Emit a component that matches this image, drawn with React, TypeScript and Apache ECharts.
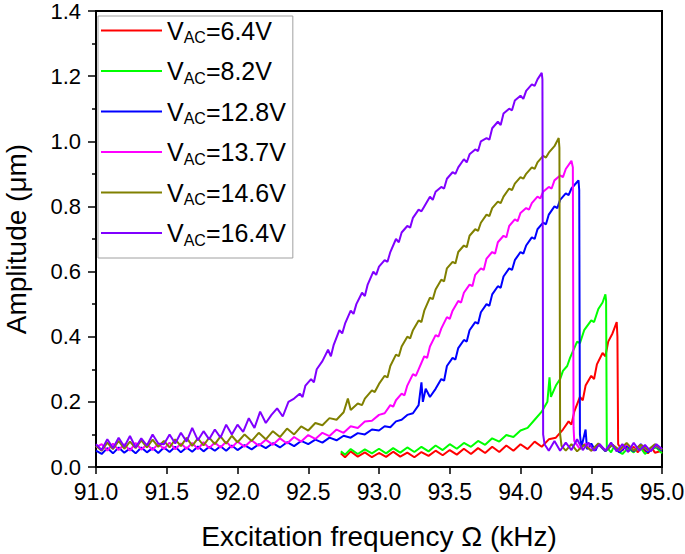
import React, { useEffect, useRef } from "react";
import * as echarts from "echarts";

const FONT = "'Liberation Sans', Arial, sans-serif";

const seriesLabels = ["6.4V", "8.2V", "12.8V", "13.7V", "14.6V", "16.4V"];
const seriesColors = ["#FF0000", "#00FF00", "#0000FF", "#FF00FF", "#808000", "#8000FF"];

const xTickValues = [91.0, 91.5, 92.0, 92.5, 93.0, 93.5, 94.0, 94.5, 95.0];

const vac64: [number, number][] = [
  [92.73, 0.042], [92.76, 0.03], [92.8, 0.048], [92.85, 0.032], [92.9, 0.045], [92.95, 0.03],
  [93.0, 0.043], [93.05, 0.031], [93.1, 0.047], [93.15, 0.032], [93.2, 0.044], [93.25, 0.03],
  [93.3, 0.046], [93.35, 0.034], [93.4, 0.05], [93.45, 0.036], [93.5, 0.052], [93.55, 0.038],
  [93.6, 0.056], [93.65, 0.04], [93.7, 0.058], [93.75, 0.043], [93.8, 0.062], [93.85, 0.046],
  [93.9, 0.066], [93.95, 0.05], [94.0, 0.07], [94.05, 0.055], [94.1, 0.078], [94.15, 0.062],
  [94.2, 0.085], [94.25, 0.09], [94.3, 0.115], [94.34, 0.14], [94.36, 0.13], [94.38, 0.17],
  [94.42, 0.215], [94.44, 0.205], [94.46, 0.25], [94.5, 0.28], [94.52, 0.27], [94.54, 0.315],
  [94.58, 0.35], [94.6, 0.34], [94.62, 0.385], [94.65, 0.41], [94.68, 0.445], [94.685, 0.4],
  [94.69, 0.07], [94.72, 0.05], [94.74, 0.066], [94.76, 0.048], [94.8, 0.062], [94.83, 0.045],
  [94.85, 0.06], [94.9, 0.042], [94.93, 0.058], [94.95, 0.044], [95.0, 0.05],
];

const vac82: [number, number][] = [
  [92.73, 0.048], [92.76, 0.038], [92.8, 0.055], [92.85, 0.04], [92.9, 0.054], [92.95, 0.042],
  [93.0, 0.056], [93.05, 0.042], [93.1, 0.058], [93.15, 0.044], [93.2, 0.06], [93.25, 0.046],
  [93.3, 0.062], [93.35, 0.048], [93.4, 0.066], [93.45, 0.052], [93.5, 0.07], [93.55, 0.056],
  [93.6, 0.074], [93.65, 0.062], [93.7, 0.08], [93.75, 0.068], [93.8, 0.088], [93.85, 0.078],
  [93.9, 0.098], [93.95, 0.092], [94.0, 0.112], [94.05, 0.12], [94.1, 0.145], [94.15, 0.17],
  [94.19, 0.2], [94.205, 0.275], [94.215, 0.215], [94.25, 0.25], [94.28, 0.27], [94.3, 0.295],
  [94.33, 0.31], [94.35, 0.335], [94.4, 0.385], [94.42, 0.38], [94.45, 0.42], [94.5, 0.45],
  [94.52, 0.445], [94.55, 0.485], [94.58, 0.505], [94.6, 0.53], [94.605, 0.51], [94.61, 0.06],
  [94.64, 0.045], [94.66, 0.062], [94.68, 0.05], [94.72, 0.04], [94.76, 0.058], [94.8, 0.045],
  [94.84, 0.065], [94.88, 0.04], [94.92, 0.055], [94.96, 0.06], [95.0, 0.042],
];

const vac128: [number, number][] = [
  [91.0, 0.05], [91.04, 0.04], [91.08, 0.058], [91.12, 0.042], [91.16, 0.06], [91.2, 0.044],
  [91.24, 0.057], [91.28, 0.042], [91.32, 0.06], [91.36, 0.045], [91.4, 0.058], [91.44, 0.043],
  [91.48, 0.06], [91.52, 0.046], [91.56, 0.062], [91.6, 0.045], [91.64, 0.06], [91.68, 0.047],
  [91.72, 0.063], [91.76, 0.048], [91.8, 0.062], [91.84, 0.05], [91.88, 0.064], [91.92, 0.05],
  [91.96, 0.066], [92.0, 0.052], [92.05, 0.067], [92.1, 0.054], [92.15, 0.07], [92.2, 0.058],
  [92.25, 0.073], [92.3, 0.06], [92.35, 0.076], [92.4, 0.064], [92.45, 0.08], [92.5, 0.07],
  [92.55, 0.084], [92.6, 0.075], [92.65, 0.09], [92.7, 0.082], [92.75, 0.096], [92.8, 0.09],
  [92.85, 0.104], [92.9, 0.1], [92.95, 0.115], [93.0, 0.112], [93.04, 0.125], [93.08, 0.122],
  [93.12, 0.14], [93.16, 0.145], [93.2, 0.16], [93.24, 0.165], [93.28, 0.19], [93.3, 0.26],
  [93.31, 0.2], [93.33, 0.24], [93.36, 0.215], [93.4, 0.24], [93.44, 0.27], [93.46, 0.265],
  [93.48, 0.31], [93.52, 0.335], [93.54, 0.33], [93.56, 0.365], [93.6, 0.39], [93.62, 0.385],
  [93.64, 0.42], [93.68, 0.445], [93.7, 0.44], [93.72, 0.475], [93.76, 0.5], [93.78, 0.495],
  [93.8, 0.53], [93.84, 0.555], [93.86, 0.55], [93.88, 0.585], [93.92, 0.61], [93.94, 0.605],
  [93.96, 0.635], [94.0, 0.66], [94.02, 0.655], [94.04, 0.68], [94.08, 0.705], [94.1, 0.7],
  [94.12, 0.73], [94.16, 0.75], [94.18, 0.745], [94.2, 0.775], [94.24, 0.8], [94.26, 0.795],
  [94.28, 0.82], [94.32, 0.84], [94.34, 0.835], [94.36, 0.855], [94.4, 0.875], [94.41, 0.88],
  [94.415, 0.85], [94.42, 0.1], [94.43, 0.06], [94.46, 0.115], [94.47, 0.055], [94.5, 0.072],
  [94.53, 0.05], [94.55, 0.07], [94.6, 0.048], [94.65, 0.068], [94.7, 0.045], [94.75, 0.065],
  [94.8, 0.048], [94.85, 0.07], [94.9, 0.045], [94.95, 0.066], [95.0, 0.05],
];

const vac137: [number, number][] = [
  [91.0, 0.06], [91.04, 0.07], [91.08, 0.05], [91.12, 0.072], [91.16, 0.052], [91.2, 0.07],
  [91.24, 0.05], [91.28, 0.074], [91.32, 0.053], [91.36, 0.07], [91.4, 0.052], [91.44, 0.072],
  [91.48, 0.055], [91.52, 0.075], [91.56, 0.054], [91.6, 0.072], [91.64, 0.056], [91.68, 0.074],
  [91.72, 0.055], [91.76, 0.076], [91.8, 0.058], [91.84, 0.075], [91.88, 0.06], [91.92, 0.078],
  [91.96, 0.06], [92.0, 0.078], [92.05, 0.062], [92.1, 0.082], [92.15, 0.065], [92.2, 0.084],
  [92.25, 0.068], [92.3, 0.088], [92.35, 0.072], [92.4, 0.092], [92.45, 0.078], [92.5, 0.098],
  [92.55, 0.086], [92.6, 0.105], [92.65, 0.095], [92.7, 0.115], [92.75, 0.105], [92.8, 0.125],
  [92.85, 0.12], [92.9, 0.14], [92.95, 0.142], [93.0, 0.16], [93.04, 0.165], [93.08, 0.19],
  [93.1, 0.185], [93.12, 0.205], [93.16, 0.225], [93.18, 0.22], [93.2, 0.25], [93.24, 0.285],
  [93.26, 0.28], [93.28, 0.3], [93.32, 0.34], [93.34, 0.335], [93.36, 0.37], [93.4, 0.405],
  [93.42, 0.4], [93.44, 0.425], [93.48, 0.46], [93.5, 0.455], [93.52, 0.48], [93.56, 0.51],
  [93.58, 0.505], [93.6, 0.535], [93.64, 0.56], [93.66, 0.555], [93.68, 0.59], [93.72, 0.61],
  [93.74, 0.605], [93.76, 0.64], [93.8, 0.66], [93.82, 0.655], [93.84, 0.69], [93.88, 0.71],
  [93.9, 0.705], [93.92, 0.74], [93.96, 0.76], [93.98, 0.755], [94.0, 0.78], [94.04, 0.795],
  [94.06, 0.79], [94.08, 0.81], [94.12, 0.83], [94.14, 0.825], [94.16, 0.845], [94.2, 0.86],
  [94.22, 0.855], [94.24, 0.88], [94.28, 0.895], [94.3, 0.89], [94.32, 0.915], [94.36, 0.94],
  [94.37, 0.92], [94.375, 0.12], [94.38, 0.08], [94.42, 0.055], [94.46, 0.072], [94.5, 0.05],
  [94.55, 0.07], [94.6, 0.052], [94.65, 0.068], [94.7, 0.05], [94.75, 0.07], [94.8, 0.052],
  [94.85, 0.068], [94.9, 0.05], [94.95, 0.066], [95.0, 0.055],
];

const vac146: [number, number][] = [
  [91.0, 0.065], [91.04, 0.05], [91.08, 0.075], [91.12, 0.055], [91.16, 0.08], [91.2, 0.056],
  [91.24, 0.078], [91.28, 0.058], [91.32, 0.082], [91.36, 0.06], [91.4, 0.084], [91.44, 0.062],
  [91.48, 0.08], [91.52, 0.06], [91.56, 0.085], [91.6, 0.064], [91.64, 0.09], [91.68, 0.065],
  [91.72, 0.088], [91.76, 0.066], [91.8, 0.09], [91.84, 0.07], [91.88, 0.094], [91.92, 0.072],
  [91.96, 0.096], [92.0, 0.076], [92.05, 0.1], [92.1, 0.08], [92.15, 0.105], [92.2, 0.085],
  [92.25, 0.11], [92.3, 0.092], [92.35, 0.118], [92.4, 0.1], [92.45, 0.125], [92.5, 0.112],
  [92.55, 0.135], [92.6, 0.128], [92.65, 0.15], [92.7, 0.145], [92.75, 0.168], [92.78, 0.21],
  [92.8, 0.175], [92.85, 0.195], [92.88, 0.19], [92.9, 0.21], [92.95, 0.235], [92.97, 0.23],
  [93.0, 0.255], [93.04, 0.28], [93.06, 0.275], [93.08, 0.31], [93.12, 0.345], [93.14, 0.34],
  [93.16, 0.37], [93.2, 0.4], [93.22, 0.395], [93.24, 0.42], [93.28, 0.45], [93.3, 0.445],
  [93.32, 0.48], [93.36, 0.52], [93.38, 0.515], [93.4, 0.545], [93.44, 0.575], [93.46, 0.57],
  [93.48, 0.61], [93.52, 0.63], [93.54, 0.625], [93.56, 0.66], [93.6, 0.68], [93.62, 0.675],
  [93.64, 0.71], [93.68, 0.73], [93.7, 0.725], [93.72, 0.75], [93.76, 0.775], [93.78, 0.77],
  [93.8, 0.795], [93.84, 0.815], [93.86, 0.81], [93.88, 0.83], [93.92, 0.855], [93.94, 0.85],
  [93.96, 0.87], [94.0, 0.89], [94.02, 0.885], [94.04, 0.9], [94.08, 0.92], [94.1, 0.915],
  [94.12, 0.935], [94.16, 0.955], [94.18, 0.95], [94.2, 0.965], [94.24, 0.985], [94.27, 1.01],
  [94.275, 0.98], [94.28, 0.1], [94.29, 0.065], [94.32, 0.05], [94.36, 0.07], [94.4, 0.048],
  [94.45, 0.068], [94.5, 0.05], [94.55, 0.072], [94.6, 0.05], [94.65, 0.068], [94.7, 0.052],
  [94.75, 0.074], [94.8, 0.05], [94.85, 0.068], [94.9, 0.052], [94.95, 0.07], [95.0, 0.052],
];

const vac164: [number, number][] = [
  [91.0, 0.07], [91.04, 0.052], [91.08, 0.085], [91.12, 0.058], [91.16, 0.09], [91.2, 0.062],
  [91.24, 0.095], [91.28, 0.06], [91.32, 0.088], [91.36, 0.066], [91.4, 0.1], [91.44, 0.072],
  [91.48, 0.07], [91.52, 0.1], [91.56, 0.072], [91.6, 0.105], [91.64, 0.078], [91.68, 0.12],
  [91.72, 0.082], [91.76, 0.11], [91.8, 0.085], [91.84, 0.115], [91.88, 0.09], [91.92, 0.13],
  [91.96, 0.1], [92.0, 0.13], [92.04, 0.108], [92.08, 0.15], [92.12, 0.12], [92.16, 0.17],
  [92.2, 0.135], [92.24, 0.16], [92.28, 0.18], [92.32, 0.155], [92.36, 0.2], [92.4, 0.21],
  [92.44, 0.225], [92.46, 0.215], [92.48, 0.25], [92.52, 0.27], [92.54, 0.26], [92.56, 0.3],
  [92.6, 0.325], [92.64, 0.36], [92.66, 0.34], [92.68, 0.375], [92.72, 0.42], [92.74, 0.41],
  [92.76, 0.44], [92.8, 0.48], [92.82, 0.47], [92.84, 0.5], [92.88, 0.535], [92.9, 0.525],
  [92.92, 0.56], [92.96, 0.6], [92.98, 0.59], [93.0, 0.615], [93.04, 0.635], [93.06, 0.63],
  [93.08, 0.66], [93.12, 0.7], [93.14, 0.69], [93.16, 0.72], [93.2, 0.74], [93.22, 0.735],
  [93.24, 0.765], [93.28, 0.79], [93.3, 0.785], [93.32, 0.8], [93.36, 0.83], [93.38, 0.82],
  [93.4, 0.845], [93.44, 0.86], [93.46, 0.855], [93.48, 0.885], [93.52, 0.905], [93.54, 0.9],
  [93.56, 0.92], [93.6, 0.945], [93.62, 0.935], [93.64, 0.96], [93.68, 0.975], [93.7, 0.97],
  [93.72, 1.0], [93.76, 1.01], [93.78, 1.005], [93.8, 1.04], [93.84, 1.06], [93.86, 1.05],
  [93.88, 1.085], [93.92, 1.1], [93.94, 1.095], [93.96, 1.125], [94.0, 1.14], [94.02, 1.13],
  [94.04, 1.155], [94.08, 1.175], [94.1, 1.17], [94.12, 1.19], [94.15, 1.21], [94.155, 1.19],
  [94.16, 0.1], [94.17, 0.07], [94.2, 0.05], [94.24, 0.08], [94.28, 0.05], [94.32, 0.075],
  [94.36, 0.052], [94.4, 0.085], [94.44, 0.052], [94.48, 0.075], [94.52, 0.05], [94.56, 0.07],
  [94.6, 0.05], [94.64, 0.075], [94.68, 0.048], [94.72, 0.07], [94.76, 0.046], [94.8, 0.074],
  [94.84, 0.05], [94.88, 0.068], [94.92, 0.048], [94.96, 0.07], [95.0, 0.055],
];

const seriesData = [vac64, vac82, vac128, vac137, vac146, vac164];

export default function App() {
  const ref = useRef<HTMLDivElement>(null);
  useEffect(() => {
    if (!ref.current) return;
    const chart = echarts.init(ref.current, undefined, { renderer: "svg" });
    const names = seriesLabels.map((l) => "VAC=" + l);
    chart.setOption({
      animation: false,
      backgroundColor: "#fff",
      grid: {
        left: 96,
        right: 23,
        top: 11,
        bottom: 87,
        show: true,
        borderColor: "#000",
        borderWidth: 2,
        containLabel: false,
        outerBoundsMode: "none",
      },
      legend: {
        data: names,
        orient: "vertical",
        left: 98,
        top: 16,
        padding: [2, 7, 10, 3],
        itemWidth: 61,
        itemHeight: 2,
        itemGap: 13,
        icon: "rect",
        backgroundColor: "#fff",
        borderColor: "#a0a0a0",
        borderWidth: 1,
        selectedMode: false,
        formatter: (name: string) => `{v|V}{s|AC}{v|=${name.split("=")[1]}}`,
        textStyle: {
          fontFamily: FONT,
          color: "#000",
          rich: {
            v: { fontSize: 25, lineHeight: 30, fontFamily: FONT, color: "#000" },
            s: { fontSize: 16, lineHeight: 8, verticalAlign: "bottom", fontFamily: FONT, color: "#000" },
          },
        },
      },
      xAxis: {
        type: "value",
        min: 91,
        max: 95,
        interval: 0.5,
        name: "Excitation frequency Ω (kHz)",
        nameLocation: "middle",
        nameGap: 55,
        nameTextStyle: { fontFamily: FONT, fontSize: 28, color: "#000" },
        axisLine: { lineStyle: { color: "#000", width: 2 } },
        axisTick: { length: 7, lineStyle: { color: "#000", width: 1.5 } },
        axisLabel: {
          fontFamily: FONT,
          fontSize: 23,
          color: "#000",
          margin: 13,
          formatter: (v: number) => (xTickValues.includes(v) ? v.toFixed(1) : ""),
        },
        splitLine: { show: false },
      },
      yAxis: {
        type: "value",
        min: 0,
        max: 1.4,
        interval: 0.2,
        name: "Amplitude (μm)",
        nameLocation: "middle",
        nameGap: 66,
        nameTextStyle: { fontFamily: FONT, fontSize: 28, color: "#000" },
        axisLine: { lineStyle: { color: "#000", width: 2 } },
        axisTick: { length: 8, lineStyle: { color: "#000", width: 1.5 } },
        minorTick: { show: true, splitNumber: 2, length: 4, lineStyle: { color: "#000", width: 1.5 } },
        axisLabel: {
          fontFamily: FONT,
          fontSize: 22,
          color: "#000",
          margin: 15,
          formatter: (v: number) => v.toFixed(1),
        },
        splitLine: { show: false },
      },
      series: seriesData.map((d, i) => ({
        name: names[i],
        type: "line",
        data: d,
        showSymbol: false,
        symbol: "none",
        color: seriesColors[i],
        lineStyle: { color: seriesColors[i], width: 2 },
        emphasis: { disabled: true },
        z: 2 + i,
      })),
    });
    return () => chart.dispose();
  }, []);
  return (
    <div
      ref={ref}
      style={{ position: "fixed", left: 0, top: 0, width: 685, height: 554 }}
    />
  );
}
